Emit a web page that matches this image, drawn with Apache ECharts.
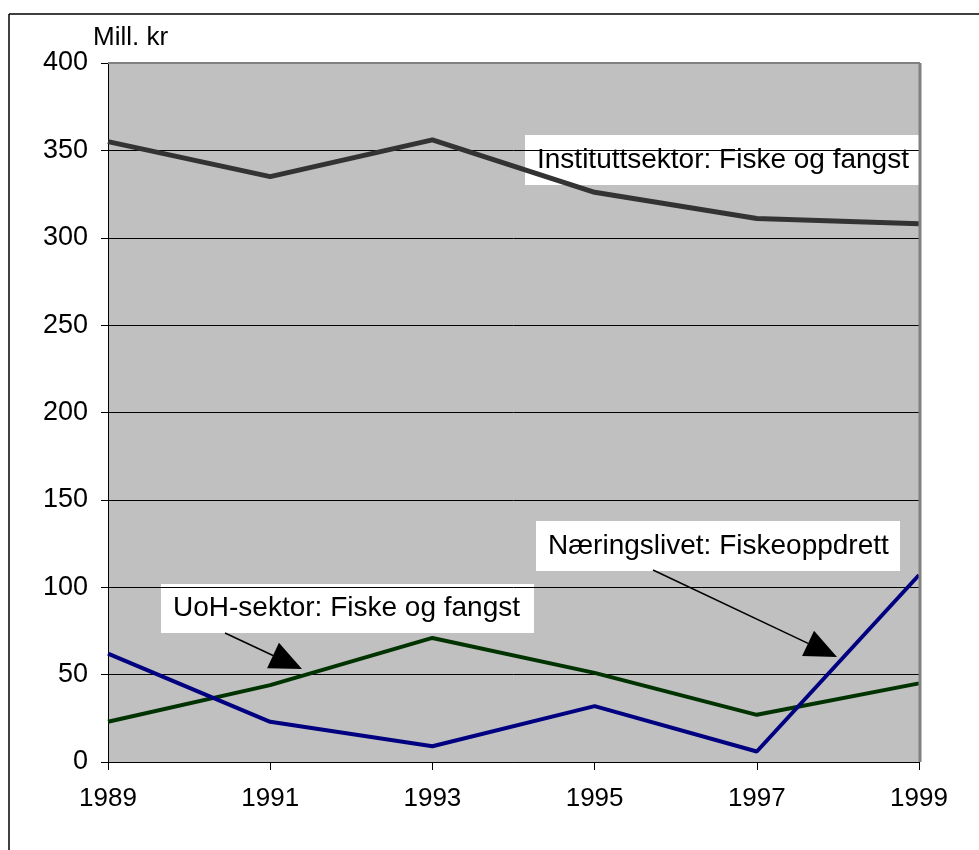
<!DOCTYPE html>
<html><head><meta charset="utf-8">
<script src="https://cdn.jsdelivr.net/npm/echarts@6/dist/echarts.min.js"></script>
<style>html,body{margin:0;padding:0;background:#fff}#c{width:979px;height:850px}</style>
</head><body><div id="c"></div>
<script>
const years = ['1989','1991','1993','1995','1997','1999'];
const institutt = [355, 335, 356, 326, 311, 308];
const naeringsliv = [62, 23, 9, 32, 6, 107];
const uoh = [23, 44, 71, 51, 27, 45];
const yTicks = {min: 0, max: 400, interval: 50};

const chart = echarts.init(document.getElementById('c'));
const font = 'Liberation Sans, Arial, sans-serif';

function arrow(x1, y1, x2, y2, len, half) {
  const dx = x2 - x1, dy = y2 - y1, L = Math.hypot(dx, dy);
  const ux = dx / L, uy = dy / L;
  const bx = x2 - ux * len, by = y2 - uy * len;
  return [
    {type: 'line', shape: {x1: x1, y1: y1, x2: bx, y2: by}, style: {stroke: '#000', lineWidth: 1.5}, z: 100},
    {type: 'polygon', shape: {points: [[x2, y2], [bx - uy * half, by + ux * half], [bx + uy * half, by - ux * half]]}, style: {fill: '#000'}, z: 100}
  ];
}
function label(x, y, w, h, text) {
  return {type: 'group', x: x, y: y, z: 90, children: [
    {type: 'rect', shape: {x: 0, y: 0, width: w, height: h}, style: {fill: '#fff'}},
    {type: 'text', x: 12, y: h / 2, style: {text: text, fontSize: 28, fontFamily: font, fill: '#000', verticalAlign: 'middle'}}
  ]};
}

chart.setOption({
  animation: false,
  backgroundColor: '#fff',
  grid: {left: 108, right: 60, top: 63, bottom: 88, show: true, backgroundColor: '#C0C0C0', borderWidth: 0},
  xAxis: {
    type: 'category', data: years, boundaryGap: false,
    axisLine: {lineStyle: {color: '#000', width: 1}},
    axisTick: {show: true, length: 8, lineStyle: {color: '#000'}},
    axisLabel: {color: '#000', fontSize: 26, fontFamily: font, margin: 24},
    splitLine: {show: false}
  },
  yAxis: {
    type: 'value', min: yTicks.min, max: yTicks.max, interval: yTicks.interval,
    axisLine: {show: true, lineStyle: {color: '#000', width: 1}},
    axisTick: {show: true, length: 7, lineStyle: {color: '#000'}},
    axisLabel: {color: '#000', fontSize: 27, fontFamily: font, margin: 20},
    splitLine: {show: true, lineStyle: {color: '#000', width: 1}}
  },
  series: [
    {name: 'Instituttsektor: Fiske og fangst', type: 'line', data: institutt, symbol: 'none', lineStyle: {color: '#333333', width: 5}, z: 5},
    {name: 'Næringslivet: Fiskeoppdrett', type: 'line', data: naeringsliv, symbol: 'none', lineStyle: {color: '#000080', width: 4}, z: 4},
    {name: 'UoH-sektor: Fiske og fangst', type: 'line', data: uoh, symbol: 'none', lineStyle: {color: '#003300', width: 4}, z: 3}
  ],
  graphic: [
    {type: 'line', shape: {x1: 9, y1: 14, x2: 979, y2: 14}, style: {stroke: '#000', lineWidth: 1.5}},
    {type: 'line', shape: {x1: 9, y1: 14, x2: 9, y2: 850}, style: {stroke: '#000', lineWidth: 1.5}},
    {type: 'line', shape: {x1: 108, y1: 63, x2: 920, y2: 63}, style: {stroke: '#808080', lineWidth: 2}, z: 50},
    {type: 'line', shape: {x1: 920, y1: 63, x2: 920, y2: 762}, style: {stroke: '#808080', lineWidth: 3}, z: 50},
    {type: 'text', x: 93, y: 38, style: {text: 'Mill. kr', fontSize: 26, fontFamily: font, fill: '#000', verticalAlign: 'middle'}},
    label(525, 135, 394, 50, 'Instituttsektor: Fiske og fangst'),
    label(161, 584, 373, 49, 'UoH-sektor: Fiske og fangst'),
    label(536, 521, 364, 50, 'Næringslivet: Fiskeoppdrett'),
    ...arrow(225, 633, 302, 669, 32, 14),
    ...arrow(653, 570, 837, 657, 32, 14)
  ]
});
</script></body></html>
